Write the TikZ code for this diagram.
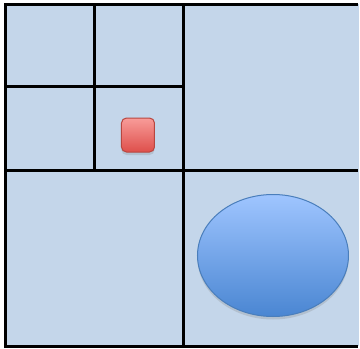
\documentclass[tikz,border=0pt]{standalone}
\usetikzlibrary{shapes.geometric, shadows}

\definecolor{cellfill}{HTML}{C4D6EA}
\definecolor{redtop}{HTML}{F89C99}
\definecolor{redbot}{HTML}{DE4F4B}
\definecolor{redline}{HTML}{B8463F}
\definecolor{bluetop}{HTML}{9FC5FF}
\definecolor{bluebot}{HTML}{4A86D2}
\definecolor{blueline}{HTML}{4A7EBB}

\begin{document}
\begin{tikzpicture}[x=1pt, y=-1pt,
  grid/.style={line width=3pt, black},
  pt/.style={draw=redline, line width=1pt, rounded corners=5pt,
             minimum width=33pt, minimum height=34pt, inner sep=0pt,
             top color=redtop, bottom color=redbot,
             drop shadow={shadow xshift=0pt, shadow yshift=-3pt, opacity=0.25}},
  blob/.style={ellipse, draw=blueline, line width=1pt,
               minimum width=151pt, minimum height=122pt, inner sep=0pt,
               top color=bluetop, bottom color=bluebot,
               drop shadow={shadow xshift=0pt, shadow yshift=-3pt, opacity=0.25}}
]
\useasboundingbox (0,0) rectangle (360,349);
\fill[cellfill] (6,4) rectangle (359,346);
% quadrant lines
\draw[grid] (358,4) -- (6,4) -- (6,346) -- (358,346);
\draw[grid] (184,4) -- (184,346);
\draw[grid] (6,170) -- (358,170);
\draw[grid] (95,4) -- (95,170);
\draw[grid] (6,86) -- (184,86);
% objects
\node[pt]   (box)  at (138,135) {};
\node[blob] (oval) at (273,255.5) {};
\end{tikzpicture}
\end{document}
